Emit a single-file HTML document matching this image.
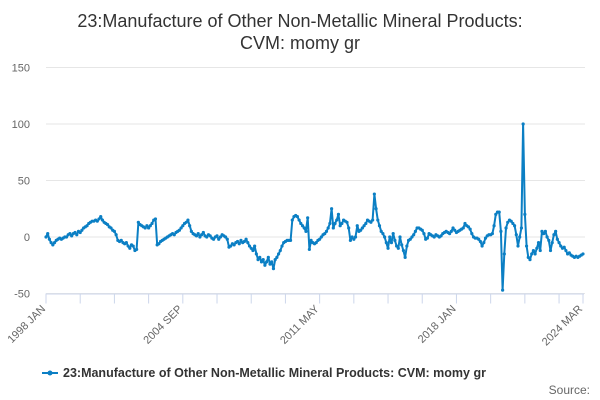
<!DOCTYPE html>
<html><head><meta charset="utf-8"><style>
body{margin:0;background:#fff;font-family:"Liberation Sans",sans-serif;}
</style></head><body>
<svg id="c" width="600" height="400" xmlns="http://www.w3.org/2000/svg" style="display:block"></svg>
<script>
const years=["1998","1999","2000","2001","2002","2003","2004","2005","2006","2007","2008","2009","2010","2011","2012","2013","2014","2015","2016","2017","2018","2019","2020","2021","2022","2023","2024"];
const values=[
0,3,-2,-5,-7,-5,-3,-2,-1,-2,-1,0,
0,2,3,1,3,4,2,5,4,6,8,9,
10,12,13,14,14,15,14,16,18,15,13,12,
11,9,8,6,5,2,-3,-4,-3,-5,-6,-5,
-8,-10,-7,-8,-12,-11,13,11,10,9,8,10,
8,10,12,15,16,-7,-6,-4,-3,-2,-1,0,
1,2,3,2,4,5,6,8,10,12,13,15,
10,5,3,2,1,3,0,2,4,1,0,2,
1,-1,-2,0,1,-2,0,2,1,0,-2,-9,
-8,-6,-7,-5,-4,-6,-3,-5,-4,-2,-5,-8,
-10,-12,-8,-15,-20,-18,-22,-20,-25,-22,-18,-24,
-22,-28,-20,-18,-15,-12,-8,-5,-4,-3,-3,-3,
15,18,19,18,15,12,10,8,5,17,-11,-3,
-5,-6,-5,-3,-2,0,2,3,5,8,12,25,
8,12,15,20,10,12,15,14,13,8,-3,0,
-2,0,10,5,6,8,10,12,15,14,13,15,
38,25,15,10,5,3,0,-5,-10,0,-5,3,
-3,-8,-10,0,-7,-12,-18,-8,-3,-2,0,2,
5,8,8,7,6,3,-2,-1,3,2,1,0,
2,1,0,1,3,4,5,4,3,5,8,6,
4,5,6,7,8,12,10,9,7,3,0,-1,
-1,-2,-4,-8,-5,-1,1,2,2,3,10,20,
22,22,5,-47,-15,8,13,15,14,12,10,2,
-8,0,8,100,20,-8,-18,-20,-15,-12,-15,-10,
-5,-12,5,3,5,0,-3,-12,-5,2,5,-2,
-5,-8,-10,-9,-12,-15,-14,-16,-17,-18,-17,-18,
-17,-16,-15];
const yTicks=[150,100,50,0,-50];
const xLabelIdx=[0,80,160,240,314];
const xLabels=["1998 JAN","2004 SEP","2011 MAY","2018 JAN","2024 MAR"];
const NS="http://www.w3.org/2000/svg";
const svg=document.getElementById('c');
const X0=46,X1=583,Y0=237,S=1.13;
const n=values.length;
const xs=i=>X0+i*(X1-X0)/(n-1);
const ys=v=>Y0-v*S;
function mk(t,a,p){const e=document.createElementNS(NS,t);for(const k in a)e.setAttribute(k,a[k]);(p||svg).appendChild(e);return e;}
let t=mk('text',{x:300,y:27,'text-anchor':'middle','font-size':'18',fill:'#333'});


t.textContent='23:Manufacture of Other Non-Metallic Mineral Products:';
t=mk('text',{x:300,y:49,'text-anchor':'middle','font-size':'18',fill:'#333'});


t.textContent='CVM: momy gr';
yTicks.forEach(v=>{
 const g=mk('line',{x1:X0,x2:X1+2,y1:ys(v),y2:ys(v),stroke:'#e6e6e6','stroke-width':1});
 
 
 const l=mk('text',{x:30,y:ys(v)+4,'text-anchor':'end','font-size':'11',fill:'#666'});
 
 
 l.textContent=v;
});
const ax=mk('line',{x1:X0,x2:X1+1,y1:ys(-50)+0.5,y2:ys(-50)+0.5,stroke:'#ccd6eb'});


for(let i=0;i<n;i+=20){const tk=mk('line',{x1:xs(i),x2:xs(i),y1:ys(-50),y2:ys(-50)+10,stroke:'#ccd6eb'});
 
 }
const lt=mk('line',{x1:xs(n-1),x2:xs(n-1),y1:ys(-50),y2:ys(-50)+10,stroke:'#ccd6eb'});


xLabelIdx.forEach((i,k)=>{
 const x=xs(i),y=ys(-50)+16;
 const l=mk('text',{x:x,y:y,'text-anchor':'end','font-size':'11',fill:'#666',transform:`rotate(-45 ${x} ${y})`});
 
 
 l.textContent=xLabels[k];
});
const pts=values.map((v,i)=>xs(i).toFixed(1)+','+ys(v).toFixed(1)).join(' ');
const pl=mk('polyline',{points:pts,fill:'none',stroke:'#0b7fc4','stroke-width':2,'stroke-linejoin':'round'});


values.forEach((v,i)=>{const c=mk('circle',{cx:xs(i),cy:ys(v),r:1.6,fill:'#0b7fc4'});
 
 });
const lg=mk('g',{});


mk('line',{x1:42,x2:58,y1:373,y2:373,stroke:'#0b7fc4','stroke-width':2},lg);
mk('circle',{cx:50,cy:373,r:2.5,fill:'#0b7fc4'},lg);
const lt2=mk('text',{x:63,y:377,'font-size':'12.5','font-weight':'bold',fill:'#333'},lg);
lt2.textContent='23:Manufacture of Other Non-Metallic Mineral Products: CVM: momy gr';
const src=mk('text',{x:590,y:394,'text-anchor':'end','font-size':'12',fill:'#666'});


src.textContent='Source:';
</script>
</body></html>
